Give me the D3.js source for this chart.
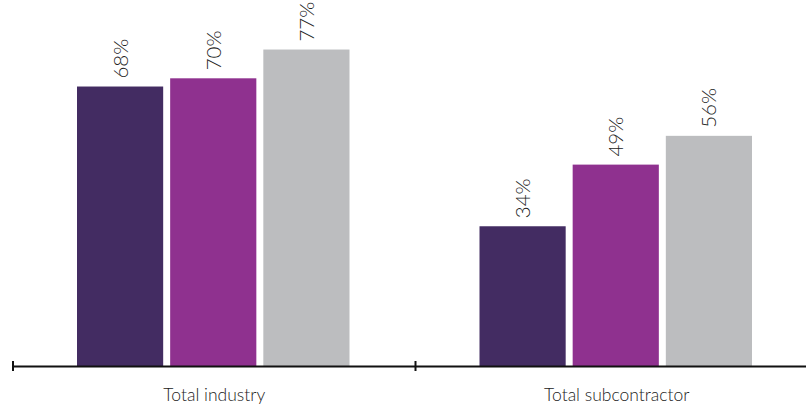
<!DOCTYPE html>
<html><head><meta charset="utf-8">
<script src="https://cdn.jsdelivr.net/npm/d3@7"></script>
<style>body{margin:0;background:#fff}svg{display:block}text{font-family:Lato,"Open Sans",sans-serif}</style>
</head><body><svg id="c" width="806" height="406"></svg>
<script>
const categories = ["Total industry", "Total subcontractor"];
const seriesNames = ["Series A", "Series B", "Series C"];
const valuesA = [68, 34];
const valuesB = [70, 49];
const valuesC = [77, 56];
const colors = ["#432c62", "#8f318f", "#bcbdbf"];

const svg = d3.select("#c");
const baseY = 366;
const x0 = d3.scaleBand().domain(categories).range([13, 818]).paddingInner(0).paddingOuter(0);
const x1 = d3.scaleBand().domain(seriesNames).range([64, x0.bandwidth() - 66]).paddingInner(0.075);
const y = d3.scaleLinear().domain([0, 100]).range([baseY, baseY - 411]);

const rows = categories.map((c, i) => ({cat: c, vals: [valuesA[i], valuesB[i], valuesC[i]]}));

const g = svg.selectAll("g.grp").data(rows).join("g").attr("class", "grp")
  .attr("transform", d => `translate(${x0(d.cat)},0)`);

g.selectAll("rect").data(d => d.vals.map((v, j) => ({v, s: seriesNames[j], j})))
  .join("rect")
  .attr("x", d => x1(d.s)).attr("width", x1.bandwidth())
  .attr("y", d => y(d.v)).attr("height", d => baseY - y(d.v))
  .attr("fill", d => colors[d.j]);

g.selectAll("text.lbl").data(d => d.vals.map((v, j) => ({v, s: seriesNames[j], j})))
  .join("text").attr("class", "lbl")
  .attr("transform", d => `translate(${x1(d.s) + x1.bandwidth()/2 + 7.5},${y(d.v) - 8}) rotate(-90)`)
  .attr("text-anchor", "start")
  .attr("font-size", 20.5).attr("font-weight", 300).attr("fill", "#222")
  .text(d => d.v + "%");

const axis = d3.axisBottom(x0).tickSize(0).tickPadding(23);
const ax = svg.append("g").attr("transform", `translate(0,${baseY})`).call(axis);
ax.select(".domain").attr("stroke", "#111").attr("stroke-width", 2);
ax.selectAll(".tick text").attr("font-size", 17.5).attr("font-weight", 300).attr("fill", "#222")
  .style("font-family", "Lato, 'Open Sans', sans-serif");
const bounds = [x0.range()[0], x0(categories[1])];
svg.selectAll("line.bt").data(bounds).join("line").attr("class", "bt")
  .attr("x1", d => d).attr("x2", d => d)
  .attr("y1", baseY - 5).attr("y2", baseY + 5)
  .attr("stroke", "#111").attr("stroke-width", 2);
</script></body></html>
